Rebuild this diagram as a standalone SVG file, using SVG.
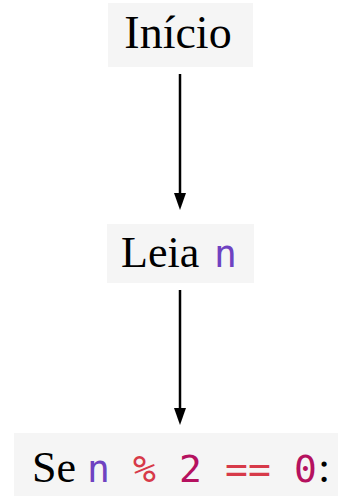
<svg xmlns="http://www.w3.org/2000/svg" width="338" height="496" viewBox="0 0 338 496">
<style>
.box{fill:#f5f5f5}
.t{font-family:"Liberation Serif",serif;font-size:44px;fill:#000}
.m{font-family:"DejaVu Sans Mono",monospace;font-size:38px}
.v{fill:#6f42c1}
.o{fill:#d73a49}
.c{fill:#b5115f}
.e{stroke:#000;stroke-width:2.5;fill:none}
</style>
<g id="edges">
<line class="e" x1="180" y1="74" x2="180" y2="193"/>
<path d="M174,193 L186,193 L180,210 Z" fill="#000"/>
<line class="e" x1="180" y1="290" x2="180" y2="408"/>
<path d="M174,408 L186,408 L180,425 Z" fill="#000"/>
</g>
<g id="inicio">
<rect class="box" x="108" y="3" width="145" height="64"/>
<text class="t" x="178" y="48" text-anchor="middle" style="font-size:46px">Início</text>
</g>
<g id="leia">
<rect class="box" x="107" y="224" width="147" height="59"/>
<text class="t" x="121" y="267">Leia</text>
<text class="m v" x="214" y="267">n</text>
</g>
<g id="se">
<rect class="box" x="14" y="433" width="324" height="63"/>
<text class="t" x="32" y="482">Se</text>
<text class="m" y="482"><tspan class="v" x="87">n</tspan><tspan class="o" x="133">%</tspan><tspan class="c" x="179">2</tspan><tspan class="o" x="225">==</tspan><tspan class="c" x="294">0</tspan></text>
<text class="t" x="318" y="482">:</text>
</g>
</svg>
